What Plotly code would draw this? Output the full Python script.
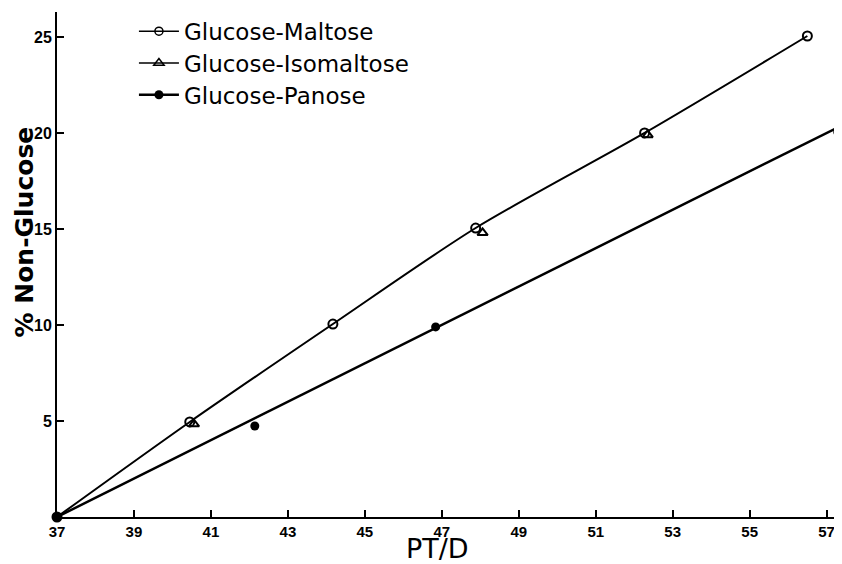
import plotly.graph_objects as go

# Data
maltose_x = [37.0, 40.45, 44.17, 47.88, 52.27, 56.5]
maltose_y = [0.0, 4.95, 10.05, 15.05, 20.0, 25.05]

isomaltose_x = [40.56, 48.06, 52.35]
isomaltose_y = [4.84, 14.8, 19.9]

panose_x = [37.0, 42.14, 46.84, 57.29]
panose_y = [0.0, 4.74, 9.9, 20.05]

# fitted straight line for the panose series
panose_fit_x = [37.0, 57.45]
panose_fit_y = [0.0, 20.45]

x_ticks = [37, 39, 41, 43, 45, 47, 49, 51, 53, 55, 57]
y_ticks = [5, 10, 15, 20, 25]
y_ticklabels = ["5", "10", "15", "20", "25"]

fig = go.Figure()

fig.add_trace(go.Scatter(x=maltose_x, y=maltose_y, mode="lines+markers",
                         line=dict(color="black", width=2, shape="spline", smoothing=0.8),
                         marker=dict(symbol="circle-open", size=9, color="black", line=dict(width=2)),
                         showlegend=False, cliponaxis=False))
fig.add_trace(go.Scatter(x=panose_fit_x, y=panose_fit_y, mode="lines",
                         line=dict(color="black", width=2.5), showlegend=False))
fig.add_trace(go.Scatter(x=isomaltose_x, y=isomaltose_y, mode="markers",
                         marker=dict(symbol="triangle-up-open", size=9, color="black", line=dict(width=2)),
                         showlegend=False))
fig.add_trace(go.Scatter(x=panose_x, y=panose_y, mode="markers",
                         marker=dict(symbol="circle", size=9, color="black"),
                         showlegend=False, cliponaxis=False))

# legend-only entries, each in its own legend for precise row spacing
fig.add_trace(go.Scatter(x=[None], y=[None], mode="lines+markers", name="Glucose-Maltose",
                         legend="legend",
                         line=dict(color="black", width=1.5),
                         marker=dict(symbol="circle-open", size=8, color="black", line=dict(width=1.5))))
fig.add_trace(go.Scatter(x=[None], y=[None], mode="lines+markers", name="Glucose-Isomaltose",
                         legend="legend2",
                         line=dict(color="black", width=1.5),
                         marker=dict(symbol="triangle-up-open", size=9, color="black", line=dict(width=1.5))))
fig.add_trace(go.Scatter(x=[None], y=[None], mode="lines+markers", name="Glucose-Panose",
                         legend="legend3",
                         line=dict(color="black", width=2.5),
                         marker=dict(symbol="circle", size=9, color="black")))

legend_font = dict(family="DejaVu Sans", size=23, color="black")
common_legend = dict(x=0.098, xanchor="left", yanchor="middle", font=legend_font,
                     bgcolor="rgba(0,0,0,0)", itemwidth=40)

# Page has an 8px body margin; figure sized so plot area matches the reference
fig.update_layout(
    width=834, height=556,
    margin=dict(l=49, r=0, t=4, b=47),
    paper_bgcolor="white", plot_bgcolor="white",
    showlegend=True,
    legend=dict(y=0.962, **common_legend),
    legend2=dict(y=0.899, **common_legend),
    legend3=dict(y=0.836, **common_legend),
    xaxis=dict(range=[37, 57.4], tickvals=x_ticks, ticks="inside", ticklen=7,
               tickwidth=1.5, tickcolor="black", showline=True, linecolor="black",
               linewidth=2, showgrid=False, zeroline=False, automargin=False,
               tickfont=dict(family="Liberation Sans", size=15, color="black", weight="bold")),
    yaxis=dict(range=[0, 26.3], tickvals=y_ticks, ticktext=y_ticklabels, ticks="inside",
               ticklen=7, tickwidth=1.5, tickcolor="black", showline=True, linecolor="black",
               linewidth=2, showgrid=False, zeroline=False, automargin=False,
               tickfont=dict(family="Liberation Sans", size=16, color="black", weight="bold")),
    annotations=[
        dict(text="PT/D", xref="paper", yref="paper", x=0.485, y=-0.063,
             xanchor="center", yanchor="middle", showarrow=False,
             font=dict(family="DejaVu Sans", size=27, color="black")),
        dict(text="% Non-Glucose", xref="paper", yref="paper", x=-0.041, y=0.565,
             xanchor="center", yanchor="middle", showarrow=False, textangle=-90,
             font=dict(family="DejaVu Sans", size=25, color="black", weight="bold")),
    ],
)

fig.write_html("out.html")
